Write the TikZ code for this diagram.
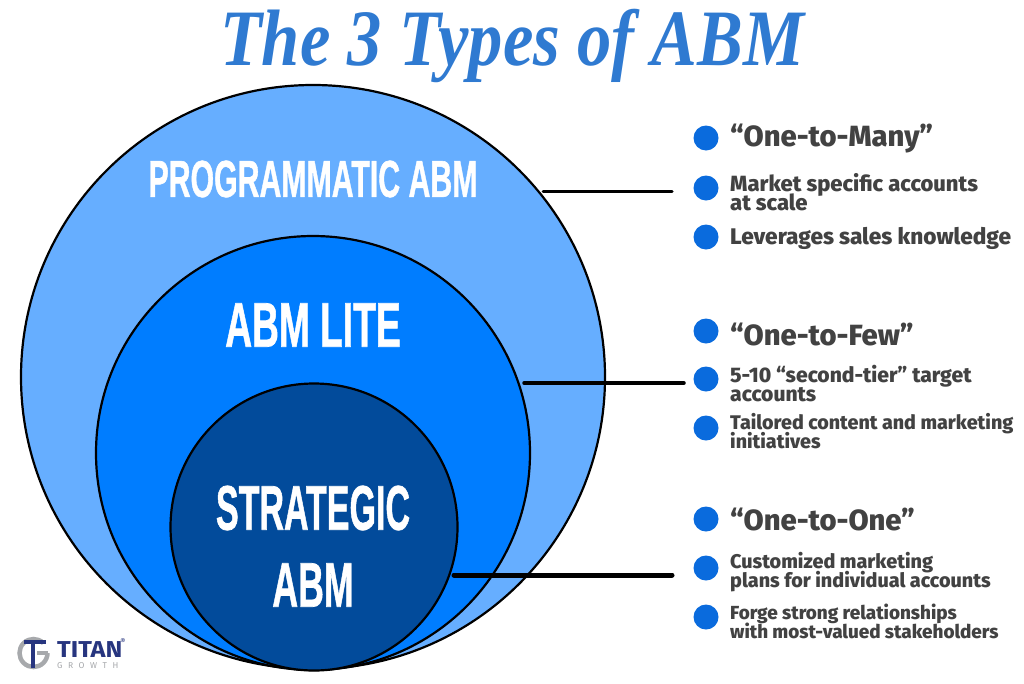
\documentclass[tikz,border=0pt]{standalone}
\usepackage{fontspec}
\usepackage{graphicx}
\setmainfont{Fira Sans}
\newfontfamily\titlefont{Liberation Serif}
\newfontfamily\bandfont[BoldFeatures={FakeBold=1.2}]{Liberation Sans}
\newfontfamily\listfont[BoldFont={Fira Sans ExtraBold}]{Fira Sans}
\definecolor{ringA}{HTML}{66AEFF}
\definecolor{ringB}{HTML}{007DFF}
\definecolor{ringC}{HTML}{024B9B}
\definecolor{dotblue}{HTML}{0A6BDD}
\definecolor{inktext}{HTML}{424242}
\definecolor{titleblue}{HTML}{2F7AD1}
\definecolor{logonavy}{HTML}{27357F}
\definecolor{logogrey}{HTML}{A7A9AC}
\lineskiplimit=-20pt
\tikzset{
  x=1pt,y=-1pt,
  ring/.style={circle,draw=black,line width=2.2pt,inner sep=0pt,outer sep=0pt},
  band/.style={text=white,inner sep=0pt,align=center,font=\bandfont\bfseries},
  dot/.style={circle,fill=dotblue,minimum size=25pt,inner sep=0pt},
  headtext/.style={anchor=west,text=inktext,inner sep=0pt,font=\listfont\bfseries\fontsize{29.2}{29}\selectfont},
  itemtext/.style={anchor=west,text=inktext,inner sep=0pt,align=left,font=\listfont\bfseries\fontsize{#1}{19}\selectfont},
  link/.style={draw=black,line width=3pt,line cap=round},
}
\newcommand{\squeeze}[2]{\scalebox{#1}[1]{#2}}
\begin{document}
\begin{tikzpicture}
\useasboundingbox (0,0) rectangle (1024,683);
\node[inner sep=0pt,anchor=base,text=titleblue,font=\titlefont\bfseries\itshape\fontsize{80}{80}\selectfont] (title) at (512,65) {\squeeze{0.857}{The 3 Types of ABM}};
\node[ring,fill=ringA,minimum size=584pt] (outer) at (313,377) {};
\node[ring,fill=ringB,minimum size=434pt] (middle) at (313,453) {};
\node[ring,fill=ringC,minimum size=287pt] (inner) at (314,527) {};
\node[band] (lprog) at (313,179) {\fontsize{52}{52}\selectfont\squeeze{0.582}{PROGRAMMATIC ABM}};
\node[band] (llite) at (313,325) {\fontsize{63}{63}\selectfont\squeeze{0.59}{ABM LITE}};
\node[band] (lstrat) at (313,508) {\fontsize{63}{63}\selectfont\squeeze{0.54}{STRATEGIC}};
\node[band] (labm) at (313,585) {\fontsize{63}{63}\selectfont\squeeze{0.567}{ABM}};
\node[dot] (d1) at (706,138) {};
\node[dot] (d2) at (706,188) {};
\node[dot] (d3) at (706,237) {};
\node[dot] (d4) at (706,331) {};
\node[dot] (d5) at (706,379) {};
\node[dot] (d6) at (706,428) {};
\node[dot] (d7) at (706,519) {};
\node[dot] (d8) at (706,568) {};
\node[dot] (d9) at (706,617) {};
\node[headtext] (t1) at (730,139) {“One-to-Many”};
\node[itemtext=22] (t2) at (730,192) {Market specific accounts\\at scale};
\node[itemtext=22.6] (t3) at (730,238) {Leverages sales knowledge};
\node[headtext] (t4) at (730,334) {“One-to-Few”};
\node[itemtext=21.1] (t5) at (730,384) {5-10 “second-tier” target\\accounts};
\node[itemtext=19.7] (t6) at (730,431) {Tailored content and marketing\\initiatives};
\node[headtext] (t7) at (730,519) {“One-to-One”};
\node[itemtext=19.8] (t8) at (730,572) {Customized marketing\\plans for individual accounts};
\node[itemtext=18.9] (t9) at (730,621) {Forge strong relationships\\with most-valued stakeholders};
\coordinate (e1) at (672,191.5);
\coordinate (e2) at (684,383);
\coordinate (e3) at (672,575);
\coordinate (s1) at (543,191.5);
\coordinate (s2) at (524,383);
\coordinate (s3) at (454,575);
\draw[link] (s1) -- (e1);
\draw[link,line width=3.5pt] (s2) -- (e2);
\draw[link,line width=5pt] (s3) -- (e3);
% logo
\draw[logogrey,line width=4.5pt] (43.4,643.1) arc[start angle=-45,end angle=-360,radius=14];
\draw[logogrey,line width=4.5pt] (47.5,653) -- (37,653);
\draw[logonavy,line width=4pt] (24,641.5) -- (46,641.5);
\draw[logonavy,line width=4.5pt] (33,641.5) -- (33,668);
\node[inner sep=0pt,anchor=base west,text=logonavy,font=\bfseries\fontsize{23}{23}\selectfont] (ltitan) at (57,657) {\squeeze{1.1}{TITAN}};
\node[inner sep=0pt,anchor=base west,text=logogrey,font=\fontsize{8.5}{8.5}\selectfont] (lgrowth) at (57,668) {G\hspace{5.5pt}R\hspace{5.5pt}O\hspace{5.5pt}W\hspace{5.5pt}T\hspace{5.5pt}H};
\node[inner sep=0pt,text=logonavy,font=\fontsize{8}{8}\selectfont] (lreg) at (123,641) {®};
\end{tikzpicture}
\end{document}
